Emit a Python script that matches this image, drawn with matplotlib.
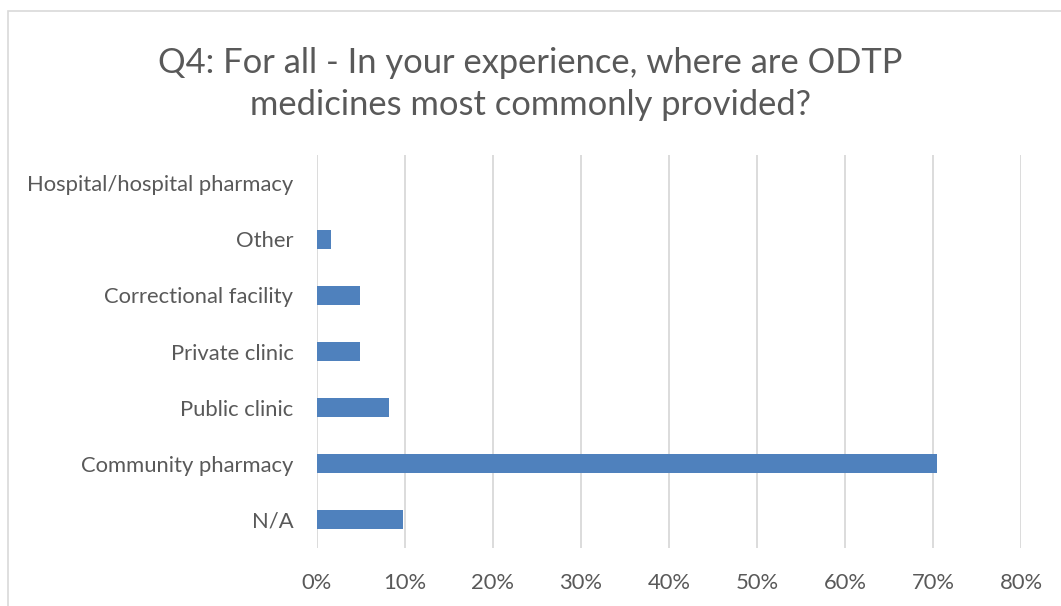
import matplotlib
matplotlib.use("Agg")
import matplotlib.pyplot as plt
import matplotlib.ticker as mticker
from matplotlib.patches import Rectangle

# Survey answers (share of respondents), bottom to top as drawn
categories = ["N/A", "Community pharmacy", "Public clinic", "Private clinic",
              "Correctional facility", "Other", "Hospital/hospital pharmacy"]
shares = [0.098, 0.705, 0.082, 0.049, 0.049, 0.016, 0.0]
x_ticks = [0, 0.1, 0.2, 0.3, 0.4, 0.5, 0.6, 0.7, 0.8]

text_color = "#595959"
bar_color = "#4F81BD"
grid_color = "#D9D9D9"
plt.rcParams['font.family'] = ['Lato', 'DejaVu Sans']

fig = plt.figure(figsize=(10.61, 6.06), dpi=100)
ax = fig.add_axes([317/1061, 1 - 548/606, 704/1061, 393/606])

# chart outer border
fig.patches.append(Rectangle((8/1061, -0.1), 1.2, 1 - 11/606 + 0.1, transform=fig.transFigure,
                             fill=False, edgecolor="#D9D9D9", linewidth=1.2))

ax.barh(range(len(categories)), shares, height=0.34, color=bar_color,
        linewidth=0, zorder=3)

ax.set_xlim(0, 0.8)
ax.set_ylim(-0.5, len(categories) - 0.5)
ax.set_xticks(x_ticks)
ax.xaxis.set_major_formatter(mticker.PercentFormatter(1.0, decimals=0))
ax.set_yticks(range(len(categories)))
ax.set_yticklabels(categories)

ax.grid(axis="x", color=grid_color, linewidth=1.3, zorder=0)
for s in ax.spines.values():
    s.set_visible(False)
ax.tick_params(axis="both", length=0, labelsize=15.8, labelcolor=text_color)
ax.tick_params(axis="x", pad=18)
ax.tick_params(axis="y", pad=17)

fig.text(0.5, 1 - 84/606, "Q4: For all - In your experience, where are ODTP\nmedicines most commonly provided?",
         ha="center", va="center", fontsize=24.8, color=text_color, linespacing=1.38)

fig.savefig("out.png", dpi=100, facecolor="white")
